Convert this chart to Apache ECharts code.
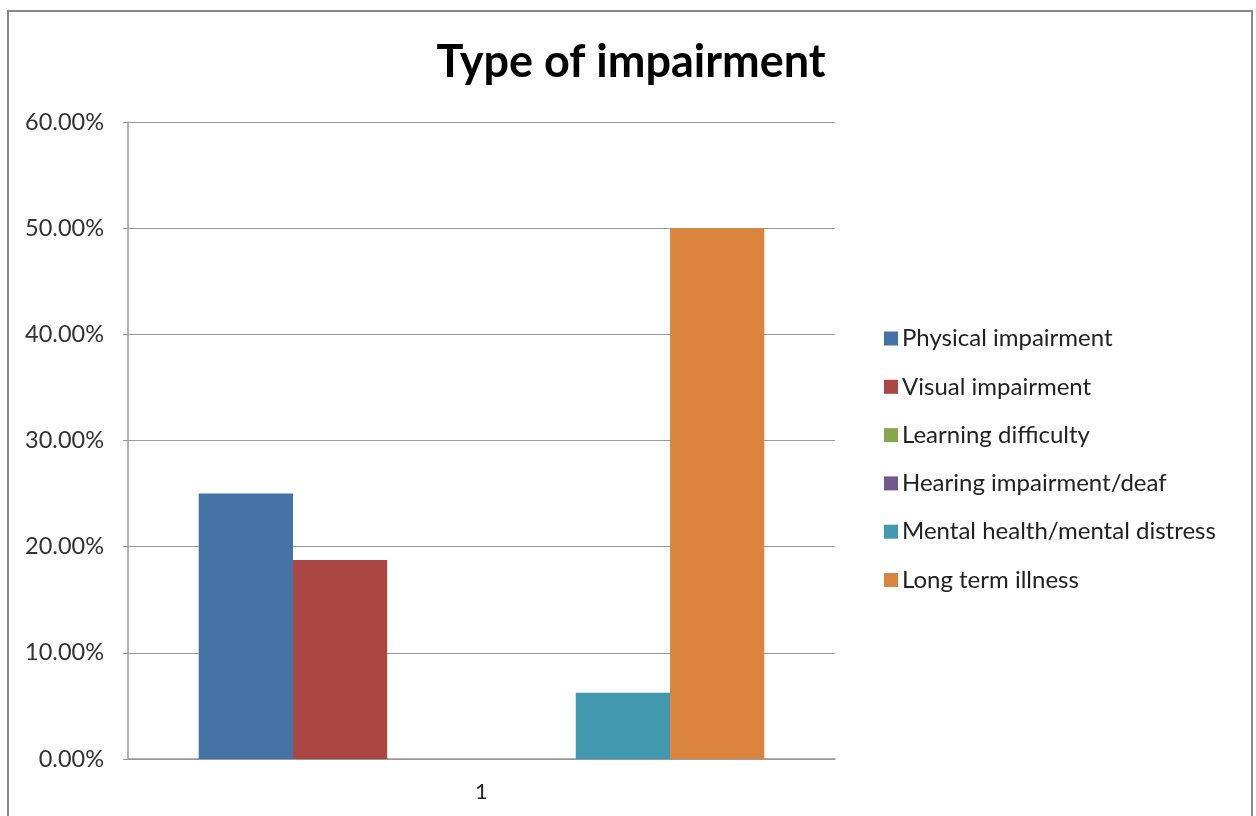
<!DOCTYPE html>
<html>
<head>
<meta charset="utf-8">
<script src="https://cdn.jsdelivr.net/npm/echarts@6/dist/echarts.min.js"></script>
<style>html,body{margin:0;padding:0;background:#fff;}#c{width:1256px;height:816px;}</style>
</head>
<body>
<div id="c"></div>
<script>
const categories = ['1'];
const seriesNames = ['Physical impairment','Visual impairment','Learning difficulty','Hearing impairment/deaf','Mental health/mental distress','Long term illness'];
const physical = [0.25];
const visual = [0.1875];
const learning = [0];
const hearing = [0];
const mental = [0.0625];
const longTerm = [0.50];
const colors = ['#4572A7','#AA4643','#89A54E','#71588F','#4198AF','#DB843D'];
const yTicks = {min: 0, max: 0.6, interval: 0.1};

const values = [physical, visual, learning, hearing, mental, longTerm];
const font = 'Lato, "Open Sans", "DejaVu Sans", sans-serif';
const chart = echarts.init(document.getElementById('c'), null, {renderer: 'canvas'});
chart.setOption({
  animation: false,
  backgroundColor: '#fff',
  title: {
    text: 'Type of impairment',
    left: 626, top: 35, textAlign: 'center',
    textStyle: {fontFamily: font, fontSize: 45, fontWeight: 'bold', color: '#000'}
  },
  graphic: [{
    type: 'rect', shape: {x: 8, y: 11, width: 1244, height: 830},
    style: {fill: 'none', stroke: '#888', lineWidth: 2}, silent: true
  }],
  legend: {
    orient: 'vertical', left: 879, top: 321.5,
    itemWidth: 14, itemHeight: 14, itemGap: 24.3,
    icon: 'rect',
    textStyle: {fontFamily: font, fontSize: 24, color: '#222', padding: [0,0,0,-1]},
    data: seriesNames
  },
  grid: {left: 128, right: 1256 - 835, top: 122, bottom: 816 - 759, containLabel: false},
  xAxis: {
    type: 'category', data: categories,
    axisLine: {show: true, lineStyle: {color: '#999', width: 1.5}},
    axisTick: {show: false},
    axisLabel: {fontFamily: font, fontSize: 22, color: '#222', margin: 22}
  },
  yAxis: {
    type: 'value', min: yTicks.min, max: yTicks.max, interval: yTicks.interval,
    axisLine: {show: true, lineStyle: {color: '#999', width: 1.5}},
    axisTick: {show: true, length: 5, inside: false, lineStyle: {color: '#999'}},
    splitLine: {show: true, lineStyle: {color: '#999', width: 1.2}},
    axisLabel: {fontFamily: font, fontSize: 23.5, color: '#333', margin: 24,
      formatter: v => (v * 100).toFixed(2) + '%'}
  },
  series: seriesNames.map((n, i) => ({
    name: n, type: 'bar', data: values[i],
    barGap: '0%', barCategoryGap: '20%',
    itemStyle: {color: colors[i]}
  }))
});
</script>
</body>
</html>
